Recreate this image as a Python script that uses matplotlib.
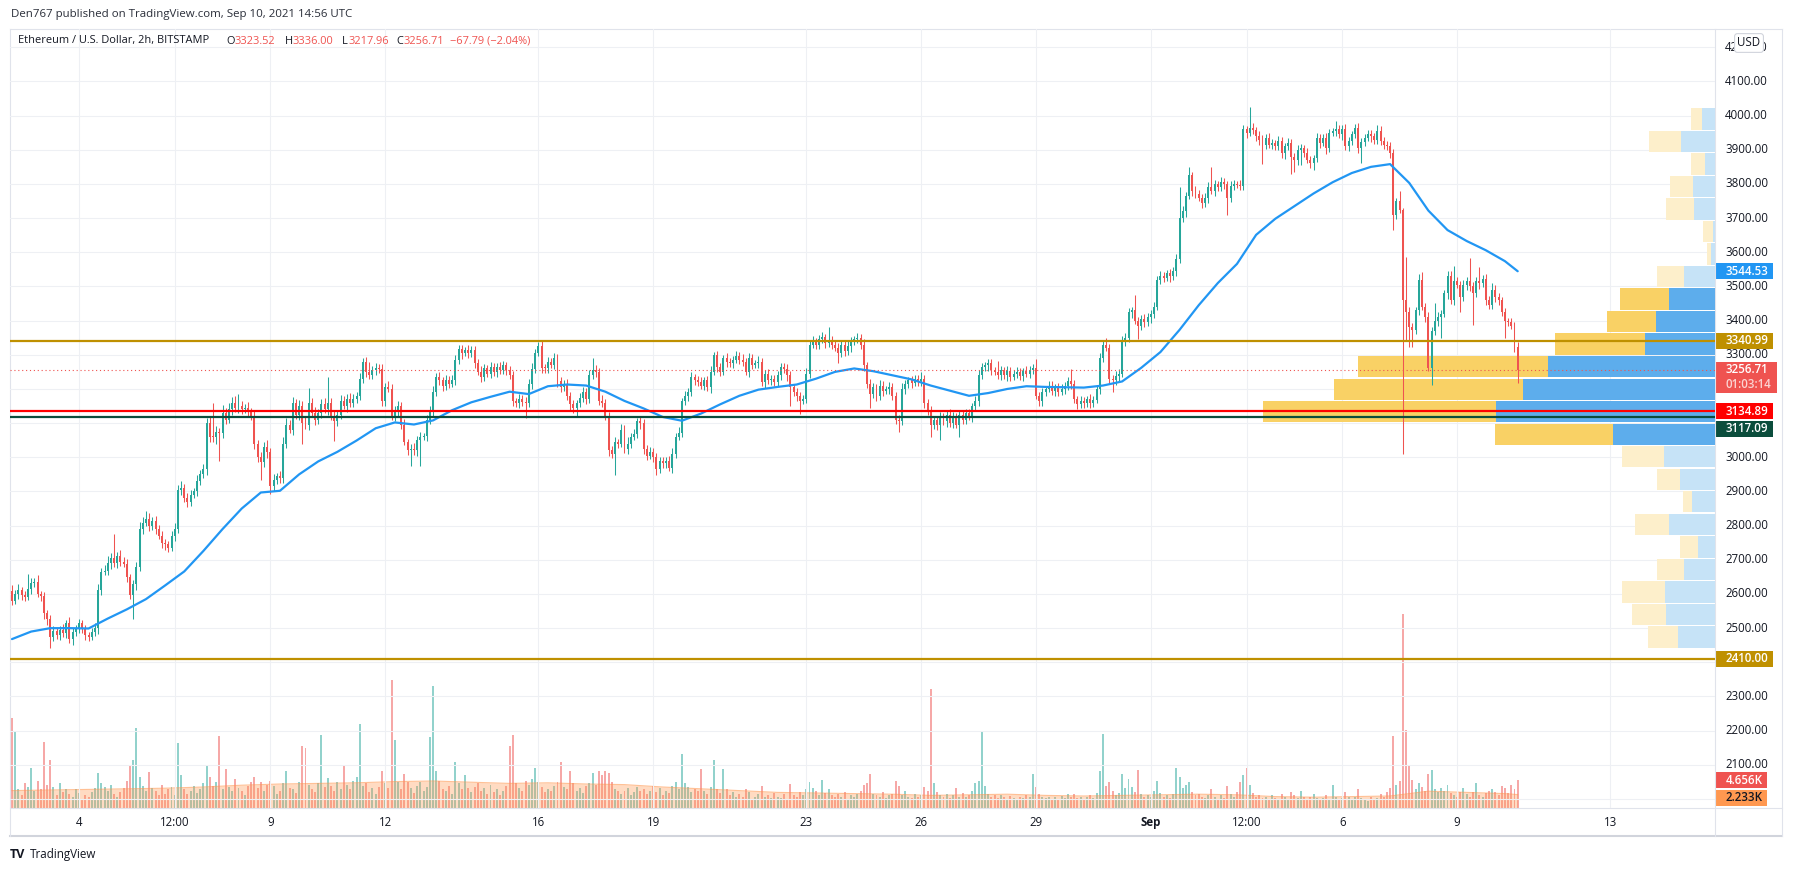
import numpy as np
import pandas as pd
import matplotlib
matplotlib.use("Agg")
import matplotlib.pyplot as plt
from matplotlib.lines import Line2D
from matplotlib.patches import Rectangle

plt.rcParams['font.family'] = ['Open Sans', 'DejaVu Sans']

# ---------------------------------------------------------------- data
# ETH/USD 2h candles (Bitstamp), first bar 2021-08-02 06:00 UTC, one row = one day
first_open = 2610
close = np.array([
    2580, 2600, 2612, 2598, 2592, 2614, 2632, 2636, 2600, 2594, 2545, 2528,
    2475, 2492, 2480, 2495, 2485, 2515, 2468, 2488, 2500, 2515, 2498, 2480,
    2475, 2490, 2500, 2612, 2665, 2668, 2690, 2705, 2690, 2712, 2695, 2688,
    2650, 2597, 2628, 2680, 2790, 2808, 2820, 2800, 2815, 2790, 2770, 2748,
    2745, 2735, 2770, 2790, 2905, 2910, 2880, 2870, 2890, 2900, 2930, 2950,
    2965, 3100, 3060, 3058, 3075, 3070, 3130, 3110, 3140, 3160, 3145, 3150,
    3140, 3145, 3135, 3120, 3040, 3000, 2985, 3030, 3015, 2915, 2935, 2945,
    2940, 3040, 3095, 3080, 3160, 3125, 3150, 3100, 3095, 3160, 3130, 3110,
    3130, 3155, 3140, 3160, 3120, 3105, 3125, 3165, 3150, 3172, 3160, 3170,
    3180, 3230, 3278, 3250, 3240, 3255, 3262, 3258, 3165, 3205, 3200, 3121,
    3135, 3150, 3095, 3045, 3020, 3025, 3020, 3050, 3060, 3062, 3110, 3135,
    3190, 3235, 3225, 3210, 3225, 3215, 3225, 3285, 3318, 3305, 3315, 3305,
    3315, 3275, 3250, 3235, 3260, 3245, 3265, 3250, 3265, 3255, 3270, 3255,
    3240, 3165, 3160, 3170, 3163, 3158, 3215, 3259, 3305, 3325, 3262, 3260,
    3280, 3270, 3290, 3222, 3205, 3215, 3180, 3155, 3145, 3158, 3175, 3190,
    3170, 3240, 3255, 3250, 3165, 3160, 3120, 3020, 3010, 3045, 3040, 3080,
    3025, 3040, 3060, 3068, 3105, 3100, 3025, 3005, 3015, 3000, 2965, 2990,
    2982, 2990, 2970, 3010, 3060, 3072, 3165, 3180, 3190, 3235, 3225, 3220,
    3210, 3225, 3205, 3250, 3298, 3265, 3250, 3290, 3280, 3275, 3285, 3295,
    3285, 3280, 3250, 3290, 3270, 3275, 3280, 3220, 3245, 3225, 3230, 3220,
    3240, 3265, 3258, 3240, 3205, 3190, 3180, 3165, 3172, 3245, 3330, 3340,
    3330, 3345, 3352, 3335, 3342, 3330, 3320, 3305, 3330, 3310, 3325, 3340,
    3345, 3350, 3330, 3270, 3215, 3185, 3205, 3180, 3210, 3195, 3200, 3205,
    3180, 3110, 3105, 3200, 3215, 3225, 3218, 3230, 3222, 3228, 3160, 3135,
    3095, 3110, 3095, 3118, 3105, 3125, 3100, 3120, 3095, 3125, 3110, 3130,
    3120, 3150, 3165, 3240, 3265, 3270, 3275, 3255, 3250, 3240, 3255, 3240,
    3252, 3235, 3245, 3250, 3238, 3252, 3245, 3255, 3262, 3180, 3165, 3190,
    3200, 3210, 3195, 3205, 3192, 3200, 3210, 3222, 3215, 3170, 3155, 3165,
    3158, 3170, 3160, 3168, 3200, 3290, 3330, 3320, 3230, 3225, 3238, 3245,
    3340, 3350, 3425, 3430, 3400, 3385, 3405, 3395, 3410, 3420, 3440, 3520,
    3530, 3525, 3538, 3530, 3545, 3580, 3700, 3720, 3765, 3825, 3780, 3770,
    3760, 3745, 3760, 3790, 3780, 3800, 3790, 3805, 3800, 3760, 3795, 3800,
    3798, 3795, 3960, 3950, 3965, 3958, 3940, 3930, 3915, 3935, 3915, 3920,
    3910, 3925, 3890, 3910, 3920, 3880, 3870, 3900, 3905, 3890, 3870, 3860,
    3875, 3935, 3920, 3935, 3905, 3950, 3955, 3960, 3945, 3962, 3910, 3925,
    3945, 3965, 3905, 3922, 3935, 3945, 3940, 3930, 3955, 3925, 3915, 3910,
    3890, 3710, 3750, 3725, 3460, 3425, 3380, 3372, 3430, 3520, 3440, 3412,
    3260, 3370, 3398, 3410, 3420, 3480, 3530, 3460, 3515, 3505, 3470, 3505,
    3515, 3500, 3480, 3515, 3510, 3523, 3460, 3445, 3490, 3470, 3460, 3425,
    3398, 3395, 3385, 3323.52, 3256.71,
])
# wick lengths above / below the candle body (USD)
upper_wick = np.array([
    15, 12, 18, 8, 10, 45, 14, 12, 20, 9, 11, 8,
    10, 14, 9, 12, 16, 8, 18, 11, 9, 13, 10, 12,
    9, 11, 14, 16, 12, 18, 20, 14, 70, 10, 16, 12,
    15, 9, 12, 14, 20, 16, 22, 18, 10, 14, 12, 15,
    12, 10, 14, 18, 15, 20, 12, 16, 14, 10, 18, 12,
    14, 16, 20, 100, 18, 12, 22, 15, 20, 16, 18, 35,
    14, 12, 18, 10, 16, 12, 15, 14, 20, 12, 16, 10,
    14, 18, 20, 15, 16, 12, 18, 15, 22, 44, 14, 16,
    12, 15, 18, 75, 14, 16, 12, 18, 15, 12, 16, 14,
    10, 16, 12, 15, 30, 12, 14, 10, 16, 12, 18, 15,
    14, 16, 12, 18, 10, 14, 16, 12, 15, 10, 14, 16,
    18, 12, 14, 10, 16, 12, 15, 14, 10, 12, 9, 15,
    12, 10, 14, 16, 12, 10, 14, 12, 10, 14, 12, 10,
    12, 14, 10, 16, 12, 14, 15, 18, 12, 13, 16, 12,
    14, 10, 16, 12, 14, 10, 15, 12, 14, 10, 12, 15,
    12, 16, 35, 14, 12, 16, 10, 14, 12, 15, 10, 16,
    14, 18, 12, 16, 10, 14, 12, 10, 16, 12, 14, 10,
    12, 10, 14, 16, 12, 18, 10, 14, 12, 15, 10, 12,
    14, 10, 12, 16, 10, 14, 12, 10, 15, 12, 10, 16,
    12, 16, 10, 14, 12, 10, 15, 12, 10, 14, 12, 10,
    14, 12, 10, 16, 12, 10, 14, 12, 10, 15, 12, 14,
    10, 12, 14, 10, 38, 12, 10, 14, 12, 10, 15, 12,
    10, 14, 12, 16, 10, 14, 12, 10, 15, 12, 10, 14,
    12, 10, 14, 16, 12, 10, 14, 12, 10, 23, 12, 10,
    14, 12, 10, 14, 12, 10, 15, 12, 10, 14, 12, 10,
    12, 10, 14, 16, 12, 10, 14, 12, 10, 32, 12, 10,
    14, 12, 10, 15, 12, 10, 14, 12, 10, 25, 12, 14,
    10, 12, 14, 10, 12, 15, 10, 14, 35, 12, 10, 14,
    12, 10, 14, 12, 10, 16, 14, 19, 12, 10, 14, 12,
    16, 14, 12, 10, 44, 12, 10, 14, 12, 10, 15, 12,
    14, 12, 10, 14, 12, 15, 90, 14, 12, 25, 10, 14,
    12, 10, 14, 16, 60, 12, 10, 14, 12, 10, 14, 12,
    10, 14, 12, 10, 60, 12, 10, 14, 12, 10, 14, 12,
    10, 14, 12, 10, 14, 12, 10, 14, 12, 10, 14, 12,
    10, 14, 12, 10, 14, 12, 10, 23, 12, 10, 14, 12,
    10, 10, 14, 12, 10, 14, 12, 10, 17, 14, 12, 10,
    14, 12, 10, 28, 5, 125, 14, 12, 10, 16, 23, 12,
    14, 12, 55, 14, 12, 10, 16, 14, 45, 12, 10, 14,
    12, 67, 14, 12, 42, 10, 14, 12, 19, 14, 12, 10,
    12, 10, 14, 12, 12.48,
])
lower_wick = np.array([
    12, 10, 14, 16, 12, 10, 15, 12, 10, 14, 18, 20,
    32, 14, 12, 16, 10, 14, 12, 18, 10, 14, 12, 16,
    14, 10, 12, 18, 14, 10, 12, 16, 10, 14, 12, 10,
    14, 12, 70, 16, 12, 14, 10, 16, 12, 14, 10, 12,
    16, 12, 10, 14, 12, 16, 10, 14, 12, 10, 14, 12,
    10, 16, 14, 12, 18, 80, 14, 12, 10, 16, 12, 14,
    12, 10, 14, 12, 16, 14, 50, 12, 16, 22, 14, 12,
    16, 14, 12, 10, 14, 12, 16, 60, 12, 14, 10, 16,
    12, 14, 10, 16, 12, 56, 14, 12, 10, 16, 12, 14,
    10, 12, 14, 16, 12, 10, 14, 12, 16, 14, 10, 12,
    16, 14, 12, 10, 14, 45, 12, 16, 75, 10, 14, 12,
    14, 10, 12, 16, 14, 12, 10, 14, 12, 16, 10, 14,
    12, 14, 10, 16, 12, 10, 14, 12, 16, 10, 12, 14,
    10, 14, 12, 16, 12, 44, 10, 14, 12, 10, 16, 12,
    14, 10, 12, 16, 14, 10, 12, 16, 14, 24, 10, 12,
    14, 12, 10, 16, 12, 14, 10, 16, 12, 62, 14, 10,
    12, 16, 14, 10, 12, 16, 14, 12, 10, 14, 16, 10,
    12, 14, 10, 16, 12, 10, 14, 12, 16, 10, 14, 12,
    10, 14, 12, 16, 10, 14, 12, 10, 16, 12, 14, 10,
    12, 14, 10, 16, 12, 10, 14, 12, 16, 10, 14, 12,
    10, 14, 12, 16, 56, 12, 14, 37, 10, 14, 12, 10,
    14, 12, 10, 16, 12, 14, 10, 29, 12, 14, 10, 16,
    12, 10, 14, 16, 12, 40, 10, 14, 12, 16, 10, 14,
    12, 14, 32, 10, 14, 12, 16, 10, 14, 12, 16, 10,
    36, 12, 14, 43, 10, 16, 12, 14, 10, 36, 12, 14,
    10, 16, 12, 14, 10, 12, 16, 14, 10, 12, 14, 10,
    16, 12, 10, 14, 12, 16, 10, 14, 12, 10, 16, 14,
    12, 10, 14, 16, 12, 10, 14, 12, 16, 10, 13, 12,
    14, 10, 16, 12, 10, 14, 12, 10, 16, 35, 12, 14,
    10, 14, 12, 16, 10, 40, 12, 14, 10, 16, 12, 10,
    14, 12, 10, 16, 12, 14, 10, 12, 16, 10, 14, 12,
    10, 14, 12, 16, 10, 14, 12, 10, 16, 51, 12, 14,
    10, 14, 12, 16, 10, 12, 14, 16, 58, 12, 10, 14,
    12, 10, 14, 16, 12, 50, 36, 14, 45, 12, 10, 14,
    19, 12, 14, 10, 16, 12, 10, 14, 12, 16, 10, 14,
    12, 10, 14, 43, 12, 10, 16, 14, 12, 10, 14, 12,
    14, 45, 12, 10, 450, 83, 58, 50, 12, 14, 10, 16,
    7, 49, 12, 14, 60, 10, 16, 12, 14, 10, 44, 12,
    14, 12, 93, 10, 16, 12, 14, 10, 12, 16, 14, 12,
    48, 12, 10, 14, 38.75,
])
# volume per bar, thousands of ETH
volume_k = np.array([
    15, 12.8, 3.1, 2.2, 4.1, 3.5, 6.6, 2.8, 4.5, 3.2, 11, 3.8,
    8, 3.5, 2.1, 4.2, 2.6, 3.1, 2.4, 1.8, 3.2, 2.5, 1.5, 2.2,
    1.9, 2.6, 3.4, 5.8, 4.2, 3.5, 2.8, 3.9, 2.4, 1.8, 2.7, 3.3,
    4.5, 7, 8, 13.4, 5.2, 3.6, 2.8, 6, 3.4, 2.9, 2.2, 3.8,
    2.4, 3.1, 3.5, 2.2, 10.8, 5.5, 3.2, 2.4, 2.9, 3.6, 2.5, 3.1,
    4.2, 7.2, 5.1, 3.6, 4.4, 12, 3.2, 6.5, 3.5, 2.9, 4.8, 3.3,
    2.8, 2.2, 3.6, 4.4, 5.1, 3.3, 4.4, 2.8, 3.9, 4.5, 3.6, 2.4,
    2.9, 4.1, 6.2, 3.4, 3.1, 2.5, 4.4, 10.4, 10, 3.8, 3.2, 2.6,
    4.2, 12.2, 3.5, 5, 3.6, 2.9, 4.4, 3.2, 7, 3.8, 3.1, 4.5,
    5.2, 14, 3.6, 4.1, 2.7, 3.3, 2.4, 3.5, 6.2, 4.1, 3.3, 21.4,
    11.4, 4.3, 3.1, 5.6, 4.4, 3.3, 2.5, 3.7, 4.3, 2.8, 3.5, 11.8,
    20.3, 6.1, 4.5, 3.2, 2.8, 3.6, 2.4, 7.7, 4.2, 3.1, 5.5, 3.3,
    2.6, 3.5, 4.2, 2.9, 3.3, 2.4, 3.8, 2.7, 3.1, 2.2, 2.9, 3.6,
    10.4, 12.2, 4.1, 3.3, 2.9, 4.5, 3.8, 4.9, 6.7, 4.3, 3.5, 2.7,
    3.2, 2.8, 3.6, 4.4, 7.6, 3.5, 3.1, 6.2, 4.2, 2.9, 3.3, 2.5,
    3.6, 4.1, 5.8, 3.9, 6.1, 5.5, 6.2, 5.9, 4.3, 3.1, 2.8, 2.4,
    2.9, 3.3, 2.2, 2.6, 3.5, 2.8, 3.1, 2.4, 2.9, 3.7, 2.6, 3.3,
    2.2, 2.8, 2.5, 3.6, 4.4, 3.1, 9, 4.2, 3.5, 2.6, 3.1, 2.9,
    6.5, 2.8, 2.3, 3.5, 8, 3.2, 2.5, 6.5, 3.1, 2.2, 2.7, 1.9,
    2.4, 1.8, 3.2, 2.6, 1.5, 1.9, 2.3, 3.6, 1.8, 2.2, 1.6, 2.5,
    1.9, 1.7, 2.4, 1.5, 4, 2.1, 1.8, 2.6, 2.2, 3.1, 4.3, 3.4,
    2.8, 2.1, 4.7, 2.5, 3.2, 2.2, 1.8, 2.4, 1.9, 2.6, 1.5, 2.1,
    1.8, 2.3, 2.9, 3.8, 4.2, 5.7, 2.4, 2.1, 1.9, 2.6, 1.7, 2.2,
    2.4, 4.5, 3.6, 2.1, 2.8, 1.9, 1.6, 2.3, 1.8, 2.2, 3.5, 2.8,
    19.8, 4.2, 2.6, 2.2, 1.9, 2.4, 1.7, 2.1, 3.3, 1.8, 2.5, 1.9,
    2.2, 2.8, 4.1, 4.5, 12.6, 3.6, 2.4, 1.9, 2.2, 1.6, 2.1, 1.8,
    1.5, 2, 1.7, 1.4, 1.9, 1.6, 2.2, 1.8, 5.7, 3.5, 2.3, 1.9,
    1.6, 1.9, 1.5, 1.8, 1.4, 2, 1.7, 2.3, 1.9, 2.4, 1.6, 1.8,
    1.5, 1.9, 2.1, 1.7, 2.5, 6.2, 12.4, 3.7, 4.3, 2.8, 2.2, 2.5,
    5.7, 3.4, 4.8, 3.5, 2.6, 6.3, 2.4, 1.9, 2.2, 1.8, 2.9, 4.5,
    2.5, 1.9, 2.2, 1.6, 2.4, 6.7, 5.2, 3.4, 3.9, 4.4, 2.6, 2.1,
    2.3, 1.9, 1.6, 2.1, 3.2, 1.8, 1.5, 2.2, 1.7, 3.6, 2.4, 1.9,
    2.6, 4.3, 5.5, 6.7, 3.8, 2.5, 1.9, 2.2, 1.6, 1.8, 1.4, 2.1,
    1.7, 1.3, 2.4, 1.8, 1.5, 2.6, 2.2, 1.6, 2.8, 1.9, 1.5, 1.8,
    2.3, 1.7, 1.4, 1.6, 2.1, 1.5, 3.9, 1.8, 1.3, 1.6, 2.7, 1.9,
    1.5, 1.8, 3.1, 1.6, 1.4, 1.2, 1.9, 1.5, 1.7, 2.4, 1.8, 2.6,
    3.3, 12, 3.8, 4.5, 32.4, 13, 7.1, 4.7, 3.2, 4.1, 3.5, 2.8,
    5.7, 6.3, 3.1, 2.6, 3.4, 2.9, 3.8, 2.5, 2.2, 1.9, 2.7, 3.3,
    2.4, 1.8, 2.6, 4.1, 2.2, 1.9, 2.5, 2.8, 3.1, 2.6, 2.2, 3.6,
    3.4, 2.5, 3.8, 3.1, 4.656,
])
# price moving average, read every 6th bar plus the last bar
ma_price = np.array([
    2468, 2490, 2500, 2500, 2499, 2528, 2555, 2585, 2625, 2666, 2726, 2790, 2850, 2897,
    2902, 2950, 2988, 3016, 3049, 3085, 3102, 3096, 3108, 3138, 3161, 3177, 3192, 3185,
    3208, 3213, 3210, 3192, 3165, 3143, 3118, 3107, 3128, 3155, 3180, 3198, 3206,
    3213, 3230, 3250, 3260, 3252, 3240, 3228, 3210, 3195, 3180, 3188, 3200, 3208,
    3206, 3205, 3204, 3210, 3222, 3262, 3308, 3373, 3445, 3510, 3566, 3651, 3698, 3735,
    3772, 3805, 3832, 3850, 3858, 3803, 3722, 3665, 3633, 3606, 3574,
    3544.53,
])
# volume moving average (K), read every 12th bar plus the last bar
ma_volume = np.array([
    2.9, 3.0, 3.1, 3.2, 3.3, 3.5, 3.8, 4.0, 4.1, 4.2, 4.4, 4.5, 4.3, 4.1,
    4.2, 4.0, 3.9, 3.5, 3.2, 2.9, 2.6, 2.5, 2.4, 2.3, 2.1, 2.2, 2.3, 2.1,
    2.0, 2.1, 2.2, 2.3, 2.2, 1.9, 1.8, 1.9, 2.0, 2.8, 2.6, 2.4, 2.233,
])
# visible-range volume profile, 24 rows from low to high
vp_down = np.array([30, 34, 43, 27, 18, 34, 9, 23, 42, 118, 233, 189,
                    190, 90, 49, 49, 27, 4, 10, 28, 23, 14, 32, 11])
vp_up = np.array([37, 49, 50, 31, 17, 46, 23, 35, 51, 102, 219, 192,
                  167, 70, 59, 46, 31, 4, 2, 21, 22, 10, 34, 13])
value_area = (9, 15)

level_gold = [3340.99, 2410.00]
level_red = 3134.89
level_green = 3117.09
countdown = "01:03:14"

tick_times = ["2021-08-04", "2021-08-06 12:00", "2021-08-09", "2021-08-12", "2021-08-16",
              "2021-08-19", "2021-08-23", "2021-08-26", "2021-08-29", "2021-09-01",
              "2021-09-03 12:00", "2021-09-06", "2021-09-09", "2021-09-13"]
tick_labels = ["4", "12:00", "9", "12", "16", "19", "23", "26", "29", "Sep", "12:00", "6", "9", "13"]

# ---------------------------------------------------------------- layout
W, H = 1793, 871
PL, PR, PT, PB, AXR = 10, 1715, 29, 808, 1782
X_REF, BAR_PX = 79.0, 3.19          # pixel of Aug 4 00:00, pixels per 2h bar
Y_REF, USD_PX = 457.3, 0.3417       # pixel of 3000 USD, pixels per USD
VOL_PX = 6.0                        # pixels per 1K volume

GREEN, RED = '#26A69A', '#EF5350'
GOLD, DKGREEN, BLUE, ORANGE = '#BF9000', '#0B4D3C', '#2196F3', '#FF9850'
TXT, GRID, BORDER = '#131722', '#EEF0F4', '#E0E3EB'
FS = 8.3

def p2y(p):
    return Y_REF - (p - 3000) * USD_PX

def y2p(y):
    return 3000 + (Y_REF - y) / USD_PX

n = len(close)
open_ = np.r_[first_open, close[:-1]]
high = np.maximum(open_, close) + upper_wick
low = np.minimum(open_, close) - lower_wick
rising = close >= open_

times = pd.date_range("2021-08-02 06:00", periods=n, freq="2h")
ref = pd.Timestamp("2021-08-04")
x = ((times - ref) / pd.Timedelta("2h")).to_numpy(dtype=float)
tick_x = [(pd.Timestamp(t) - ref) / pd.Timedelta("2h") for t in tick_times]

xlim = ((PL - X_REF) / BAR_PX, (PR - X_REF) / BAR_PX)
ylim = (y2p(PB), y2p(PT))

fig = plt.figure(figsize=(W / 100, H / 100), dpi=100)
fig.patch.set_facecolor('white')

def box(l, t, r, b):
    return [l / W, 1 - b / H, (r - l) / W, (b - t) / H]

ax = fig.add_axes(box(PL, PT, PR, PB))
axv = ax.twinx()
axv.set_zorder(1)
ax.set_zorder(2)
ax.patch.set_visible(False)
for a in (ax, axv):
    a.set_axis_off()
ax.set_xlim(xlim)
ax.set_ylim(ylim)
axv.set_ylim(0, (PB - PT) / VOL_PX)

# grid
for p in range(2000, 4300, 100):
    ax.axhline(p, color=GRID, lw=0.8, zorder=0)
for tx in tick_x:
    ax.axvline(tx, color=GRID, lw=0.8, zorder=0)

# volume + its average
vcol = np.where(rising, GREEN, RED)
axv.bar(x, volume_k, width=0.62, color=vcol, alpha=0.5, lw=0)
vx = np.r_[x[::12], x[-1]]
axv.fill_between(vx, 0, ma_volume, color=ORANGE, alpha=0.35, lw=0)
axv.plot(vx, ma_volume, color=ORANGE, lw=0.8, alpha=0.6)

# volume profile (visible range)
edges = np.linspace(low.min(), high.max(), len(vp_up) + 1)
rh = edges[1] - edges[0]
scale = 0.265 * (xlim[1] - xlim[0]) / (vp_up + vp_down).max()
for k in range(len(vp_up)):
    in_va = value_area[0] <= k <= value_area[1]
    c_up = '#5DADEC' if in_va else '#C6E3F7'
    c_dn = '#F9D165' if in_va else '#FDEFCB'
    wu, wd = vp_up[k] * scale, vp_down[k] * scale
    ax.barh(edges[k], wu, height=rh - 1.2 / USD_PX, left=xlim[1] - wu,
            align='edge', color=c_up, lw=0, zorder=1)
    ax.barh(edges[k], wd, height=rh - 1.2 / USD_PX, left=xlim[1] - wu - wd,
            align='edge', color=c_dn, lw=0, zorder=1)

# candles
ccol = np.where(rising, GREEN, RED)
ax.vlines(x, low, high, colors=ccol, lw=0.75, zorder=3)
body = np.maximum(np.abs(close - open_), 1.0 / USD_PX)
ax.bar(x, body, bottom=np.minimum(open_, close), width=0.62, color=ccol, lw=0, zorder=3)

# moving average
mx = np.r_[x[::6], x[-1]]
ax.plot(mx, ma_price, color=BLUE, lw=1.6, zorder=4, solid_capstyle='round')

# horizontal levels
for lv in level_gold:
    ax.axhline(lv, color=GOLD, lw=1.6, zorder=5)
ax.axhline(level_red, color='#FF0000', lw=1.6, zorder=5)
ax.axhline(level_green, color=DKGREEN, lw=1.6, zorder=5)
ax.axhline(close[-1], color=RED, lw=0.8, ls=(0, (1, 2.5)), zorder=5)

# x-axis labels
for tx, lab in zip(tick_x, tick_labels):
    ax.text(tx, y2p(822), lab, ha='center', va='center', fontsize=FS, color=TXT,
            fontweight='bold' if lab == 'Sep' else 'normal', clip_on=False)

# price scale: coloured tags first (pixel rows), then the plain labels they leave free
axr = fig.add_axes(box(PR, PT, AXR, PB))
axr.set_axis_off()
axr.set_xlim(0, AXR - PR)
axr.set_ylim(ylim)

yl = p2y(close[-1])
yv = PB - volume_k[-1] * VOL_PX
tags = [  # (top px, bottom px, width px, colour, text colour, lines)
    (p2y(ma_price[-1]) - 8, p2y(ma_price[-1]) + 8, 58, BLUE, 'white', [f"{ma_price[-1]:.2f}"]),
    (p2y(level_gold[0]) - 8, p2y(level_gold[0]) + 8, 58, GOLD, 'white', [f"{level_gold[0]:.2f}"]),
    (yl - 8, yl + 23.5, 62, RED, 'white', [f"{close[-1]:.2f}", countdown]),
    (p2y(level_red) - 8, p2y(level_red) + 8, 58, '#FF0000', 'white', [f"{level_red:.2f}"]),
    (p2y(level_red) + 9.5, p2y(level_red) + 25.5, 58, DKGREEN, 'white', [f"{level_green:.2f}"]),
    (p2y(level_gold[1]) - 8, p2y(level_gold[1]) + 8, 58, GOLD, 'white', [f"{level_gold[1]:.2f}"]),
    (yv - 8, yv + 8, 52, RED, 'white', [f"{volume_k[-1]:.3f}K"]),
    (yv + 9.5, yv + 25.5, 52, ORANGE, TXT, [f"{ma_volume[-1]:.3f}K"]),
]
for top, bot, w, bg, fg, lines in tags:
    axr.add_patch(Rectangle((0, y2p(bot)), w, (bot - top) / USD_PX, facecolor=bg,
                            edgecolor='none', zorder=5, clip_on=False))
    for j, s in enumerate(lines):
        c = fg if j == 0 else '#FBD3D2'
        axr.text(11, y2p(top + 8 + 15 * j), s, ha='left', va='center', fontsize=FS,
                 color=c, fontweight='semibold', zorder=6)

for p in range(2000, 4300, 100):
    yp = p2y(p)
    if any(top - 5 < yp < bot + 5 for top, bot, *_ in tags):
        continue
    axr.text(10, p, f"{p:.2f}", ha='left', va='center', fontsize=FS, color=TXT)
axr.text(34, y2p(43), "USD", ha='center', va='center', fontsize=FS, color=TXT, zorder=7,
         bbox=dict(boxstyle='round,pad=0.25', fc='white', ec='#D1D4DC', lw=0.8))

# frame lines
def hline(y, x0, x1, color=BORDER, lw=0.8):
    fig.add_artist(Line2D([x0 / W, x1 / W], [1 - y / H, 1 - y / H], color=color, lw=lw))

def vline(xp, y0, y1, color=BORDER, lw=0.8):
    fig.add_artist(Line2D([xp / W, xp / W], [1 - y0 / H, 1 - y1 / H], color=color, lw=lw))

hline(PT, PL, AXR)
hline(PB, PL, AXR)
hline(836, PL, AXR, color='#D1D4DC', lw=1.5)
vline(PL, PT, 836)
vline(PR, PT, 836)
vline(AXR, PT, 836)

# header texts
fig.text(11 / W, 1 - 14 / H, "Den767 published on TradingView.com, Sep 10, 2021 14:56 UTC",
         fontsize=8.25, color='#2A2E39', va='center', ha='left')

renderer = fig.canvas.get_renderer()
pieces = [("Ethereum / U.S. Dollar, 2h, BITSTAMP", TXT, 17), ("O", TXT, 0), ("3323.52", RED, 9),
          ("H", TXT, 0), ("3336.00", RED, 9), ("L", TXT, 0), ("3217.96", RED, 8),
          ("C", TXT, 0), ("3256.71", RED, 6), ("\u221267.79 (\u22122.04%)", RED, 0)]
xp = 18
for s, c, gap in pieces:
    t = fig.text(xp / W, 1 - 41 / H, s, fontsize=7.9, color=c, va='center', ha='left')
    xp += t.get_window_extent(renderer).width + gap

fig.text(10 / W, 1 - 854 / H, "TV", fontsize=9, fontweight='bold', color=TXT, va='center', ha='left')
fig.text(30 / W, 1 - 854 / H, "TradingView", fontsize=8.4, color=TXT, va='center', ha='left')

fig.savefig('out.png', dpi=100)
